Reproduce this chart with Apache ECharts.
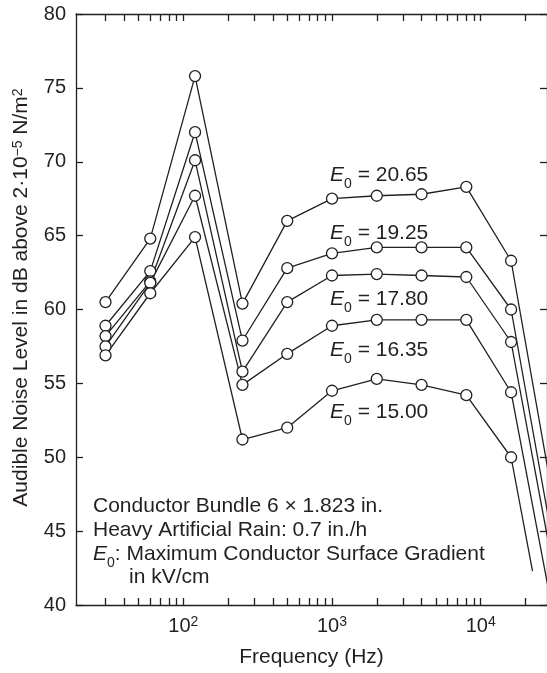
<!DOCTYPE html>
<html>
<head>
<meta charset="utf-8">
<script src="https://cdn.jsdelivr.net/npm/echarts@6/dist/echarts.min.js"></script>
<style>
html,body{margin:0;padding:0;background:#fff;}
#c{width:547px;height:673px;}
</style>
</head>
<body>
<div id="c"></div>
<script>
// ---- data ----
const freqs = [30, 60, 120, 250, 500, 1000, 2000, 4000, 8000, 16000];
const gradients = ['20.65', '19.25', '17.80', '16.35', '15.00'];
const level2065 = [60.5, 64.8, 75.8, 60.4, 66.0, 67.5, 67.7, 67.8, 68.3, 63.3];
const level1925 = [58.9, 62.6, 72.0, 57.9, 62.8, 63.8, 64.2, 64.2, 64.2, 60.0];
const level1780 = [58.2, 61.9, 70.1, 55.8, 60.5, 62.3, 62.4, 62.3, 62.2, 57.8];
const level1635 = [57.5, 61.8, 67.7, 54.9, 57.0, 58.9, 59.3, 59.3, 59.3, 54.4];
const level1500 = [56.9, 61.1, 64.9, 51.2, 52.0, 54.5, 55.3, 54.9, 54.2, 50.0];
const tailFreq = [31500, 31500, 31500, 31500, 22300];
const tailLevel = [46.5, 43.5, 41.9, 38.8, 42.3];
const xLabelValues = [100, 1000, 10000];
const xTickValues = [30, 40, 50, 60, 70, 80, 90, 100,
  200, 300, 400, 500, 600, 700, 800, 900, 1000,
  2000, 3000, 4000, 5000, 6000, 7000, 8000, 9000, 10000, 20000];
const noteLines = [
  'Conductor Bundle 6 \u00d7 1.823 in.',
  'Heavy Artificial Rain: 0.7 in./h',
  '{i|E}{s|0}{t|: Maximum Conductor Surface Gradient}',
  'in kV/cm'
];
const xTitle = 'Frequency (Hz)';
const yTitle = 'Audible Noise Level in dB above 2\u00b710{sup|\u22125} N/m{sup|2}';

const levels = [level2065, level1925, level1780, level1635, level1500];
const INK = '#231f20';
const FONT = "'Liberation Sans', Arial, Helvetica, sans-serif";

const chart = echarts.init(document.getElementById('c'), null, {renderer: 'canvas'});

const series = levels.map((vals, k) => {
  const data = freqs.map((f, i) => [f, vals[i]]);
  data.push({value: [tailFreq[k], tailLevel[k]], symbol: 'none'});
  return {
    type: 'line',
    name: gradients[k],
    data: data,
    symbol: 'circle',
    symbolSize: 11,
    lineStyle: {color: INK, width: 1.3},
    itemStyle: {color: '#fff', borderColor: INK, borderWidth: 1.3},
    emphasis: {disabled: true},
    animation: false,
    clip: true
  };
});

const richText = {
  i: {fontFamily: FONT, fontSize: 21, fontStyle: 'italic', fill: INK, lineHeight: 24},
  s: {fontFamily: FONT, fontSize: 14, fill: INK, verticalAlign: 'bottom', lineHeight: 24, padding: [0, 0, -4, 0]},
  t: {fontFamily: FONT, fontSize: 21, fill: INK, lineHeight: 24}
};

const labelY = [175, 233, 299, 350, 412];
const graphics = gradients.map((g, k) => ({
  type: 'text',
  x: 330, y: labelY[k],
  style: {
    text: '{i|E}{s|0}{t| = ' + g + '}',
    fill: INK,
    verticalAlign: 'middle',
    rich: richText
  }
}));
const noteX = [93, 93, 93, 129];
const noteY = [506, 530, 554, 577];
noteLines.forEach((t, k) => {
  graphics.push({
    type: 'text',
    x: noteX[k], y: noteY[k],
    style: {
      text: t,
      fill: INK,
      font: '21px ' + FONT,
      verticalAlign: 'middle',
      rich: richText
    }
  });
});

const tickFmt = v => {
  const p = Math.round(Math.log10(v));
  return '{n|10}{p|' + p + '}';
};

chart.setOption({
  animation: false,
  backgroundColor: '#fff',
  grid: {left: 76, top: 14, width: 474, height: 598},
  xAxis: [{
    type: 'log',
    min: 19, max: 27900,
    position: 'bottom',
    axisLine: {show: true, lineStyle: {color: INK, width: 1.3}},
    axisTick: {show: true, inside: true, length: 7, customValues: xTickValues, lineStyle: {color: INK, width: 1.3}},
    axisLabel: {
      show: true, customValues: xLabelValues, margin: 10, color: INK,
      formatter: tickFmt,
      rich: {
        n: {fontFamily: FONT, fontSize: 20, color: INK, lineHeight: 22},
        p: {fontFamily: FONT, fontSize: 14, color: INK, verticalAlign: 'top', lineHeight: 14}
      }
    },
    splitLine: {show: false},
    minorTick: {show: false},
    name: xTitle, nameLocation: 'middle', nameGap: 42,
    nameTextStyle: {fontFamily: FONT, fontSize: 21, color: INK}
  }, {
    type: 'log',
    min: 19, max: 27900,
    position: 'top',
    axisLine: {show: true, lineStyle: {color: INK, width: 1.3}},
    axisTick: {show: true, inside: true, length: 7, customValues: xTickValues, lineStyle: {color: INK, width: 1.3}},
    axisLabel: {show: false},
    splitLine: {show: false}
  }],
  yAxis: [{
    type: 'value',
    min: 40, max: 80, interval: 5,
    position: 'left',
    axisLine: {show: true, lineStyle: {color: INK, width: 1.3}},
    axisTick: {show: true, inside: true, length: 7, lineStyle: {color: INK, width: 1.3}},
    axisLabel: {fontFamily: FONT, fontSize: 20, color: INK, margin: 10},
    splitLine: {show: false},
    name: yTitle, nameLocation: 'middle', nameGap: 44, nameRotate: 90,
    nameTextStyle: {
      fontFamily: FONT, fontSize: 21, color: INK,
      padding: [0, 0, 0, 24],
      rich: {sup: {fontFamily: FONT, fontSize: 14, color: INK, verticalAlign: 'top', lineHeight: 14}}
    }
  }, {
    type: 'value',
    min: 40, max: 80, interval: 5,
    position: 'right',
    axisLine: {show: true, lineStyle: {color: INK, width: 1.3}},
    axisTick: {show: true, inside: true, length: 7, lineStyle: {color: INK, width: 1.3}},
    axisLabel: {show: false},
    splitLine: {show: false}
  }],
  series: series,
  graphic: graphics
});
</script>
</body>
</html>
